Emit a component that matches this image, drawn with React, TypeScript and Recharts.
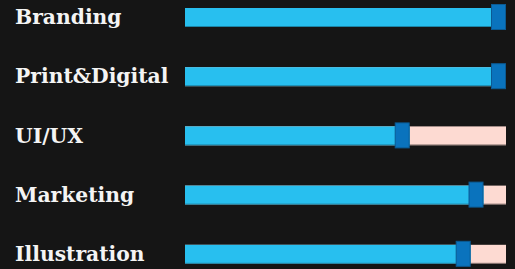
import React from "react";
import { BarChart, Bar, XAxis, YAxis } from "recharts";

const categories = ["Branding", "Print&Digital", "UI/UX", "Marketing", "Illustration"];
const skillValues = [100, 100, 70, 93, 89];
const maxValue = 100;

const data = categories.map((name, i) => ({ name, value: skillValues[i] }));

const BG = "#151515";
const BLUE = "#28bfef";
const HANDLE = "#0a73bd";
const HANDLE_BORDER = "#0b5a93";
const TRACK = "#fddad2";

const Track = (props: any) => {
  const { x, y, width, height } = props;
  return (
    <g>
      <rect x={x} y={y} width={width} height={height} fill={TRACK} />
      <rect x={x} y={y + height - 1} width={width} height={1} fill="rgba(0,0,0,0.45)" />
    </g>
  );
};

const SkillShape = (props: any) => {
  const { x, y, width, height } = props;
  const hw = 15;
  return (
    <g>
      <rect x={x} y={y} width={width} height={height} fill={BLUE} />
      <rect x={x} y={y + height - 1} width={width} height={1} fill="rgba(0,0,0,0.3)" />
      <rect
        x={x + width - hw + 0.5}
        y={y - 3.5}
        width={hw - 1}
        height={height + 6}
        fill={HANDLE}
        stroke={HANDLE_BORDER}
        strokeWidth={1}
      />
    </g>
  );
};

const LabelTick = (props: any) => {
  const { y, payload } = props;
  return (
    <text
      x={15}
      y={y}
      dy={6.5}
      textAnchor="start"
      fill="#f4f4f4"
      fontFamily="'DejaVu Serif', serif"
      fontWeight="bold"
      fontSize={20.3}
    >
      {payload.value}
    </text>
  );
};

export default function App() {
  return (
    <div style={{ position: "absolute", left: 0, top: 0, width: 515, height: 269, background: BG, overflow: "hidden" }}>
      <BarChart
        width={515}
        height={269}
        data={data}
        layout="vertical"
        margin={{ top: -12, right: 9, bottom: -15, left: 0 }}
      >
        <XAxis type="number" domain={[0, maxValue]} hide />
        <YAxis
          type="category"
          dataKey="name"
          width={185}
          axisLine={false}
          tickLine={false}
          tick={<LabelTick />}
        />
        <Bar
          dataKey="value"
          barSize={19}
          background={<Track />}
          shape={<SkillShape />}
          isAnimationActive={false}
        />
      </BarChart>
    </div>
  );
}
